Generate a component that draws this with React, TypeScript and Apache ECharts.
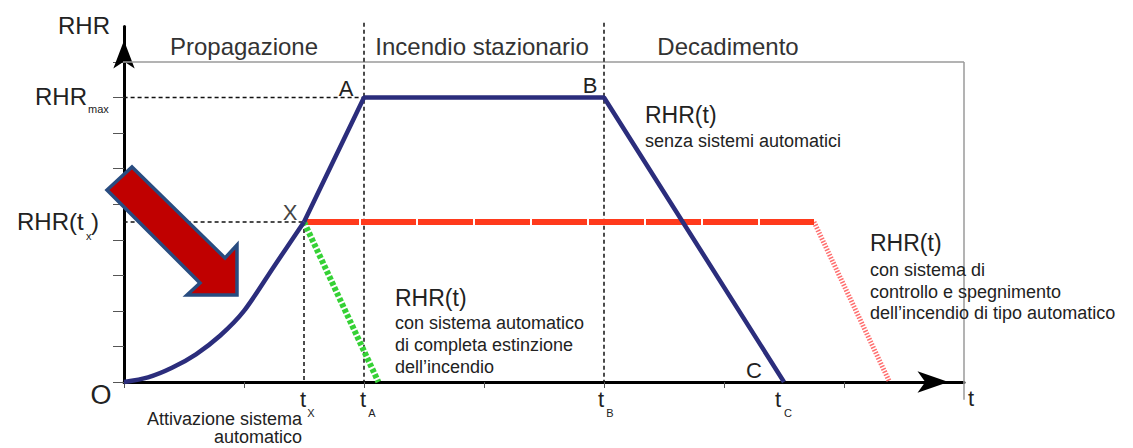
import React, { useEffect, useRef } from "react";
import * as echarts from "echarts";

// ---- data (diagram units: t on x, RHR on y) ----
const xTickValues = [0, 1, 2, 3, 4, 5, 6];
const yTickValues = [0, 1, 2, 3, 4, 5, 6, 7, 8, 9];
const growthCurve = [[0, 0], [0.2, 0.13], [0.4, 0.4], [0.6, 0.78], [0.8, 1.3], [1.0, 2.0], [1.25, 3.25], [1.5, 4.5]];
const freeBurn = [[1.5, 4.5], [2, 8], [4, 8], [5.5, 0]];
const extinction = [[1.5, 4.5], [2.12, 0]];
const controlledPlateau = [[1.5, 4.5], [5.75, 4.5]];
const controlledDecay = [[5.75, 4.5], [6.38, 0]];
const guideRHRmax = [[-0.12, 8], [2, 8]];
const guideRHRtx = [[-0.12, 4.5], [1.5, 4.5]];
const guideTx = [[1.5, 4.5], [1.5, 0]];
const guideTa = [[2, 10.1], [2, 0]];
const guideTb = [[4, 10.1], [4, 0]];
const frameTop = [[-0.1, 9], [7, 9]];
const frameRight = [[7, 9], [7, -0.5]];

const FONT = "'Liberation Sans', Arial, sans-serif";

function txt(text: string, x: number, y: number, size: number, opts: any = {}) {
  return {
    type: "text",
    x,
    y,
    z: 50,
    style: {
      text,
      fill: opts.fill || "#222",
      fontSize: size,
      fontFamily: FONT,
      align: opts.align || "left",
      verticalAlign: "middle",
      lineHeight: opts.lineHeight || size * 1.2,
    },
  };
}

export default function App() {
  const ref = useRef<HTMLDivElement>(null);
  useEffect(() => {
    if (!ref.current) return;
    const chart = echarts.init(ref.current, undefined, { renderer: "svg" });
    const line = (data: number[][], color: string, width: number, type: any, z = 2, smooth: any = false) => ({
      type: "line",
      data,
      smooth,
      symbol: "none",
      clip: false,
      z,
      silent: true,
      lineStyle: { color, width, type, cap: "butt" },
    });
    const guide = (data: number[][]) => line(data, "#111", 1.5, [4, 3], 1);
    chart.setOption({
      animation: false,
      backgroundColor: "#fff",
      grid: { left: 124, right: 169, top: 26.4, bottom: 66 },
      xAxis: {
        type: "value",
        min: 0,
        max: 7,
        interval: 1,
        splitLine: { show: false },
        axisLabel: { show: false },
        axisTick: { show: true, length: 6, customValues: xTickValues, lineStyle: { color: "#555", width: 1 } },
        axisLine: {
          show: true,
          onZero: true,
          lineStyle: { color: "#000", width: 3 },
          symbol: ["none", "arrow"],
          symbolSize: [16, 31],
          symbolOffset: [0, -15.5],
        },
      },
      yAxis: {
        type: "value",
        min: 0,
        max: 10,
        interval: 1,
        splitLine: { show: false },
        axisLabel: { show: false },
        axisTick: { show: true, length: 11, customValues: yTickValues, lineStyle: { color: "#555", width: 1 } },
        axisLine: {
          show: true,
          onZero: true,
          lineStyle: { color: "#000", width: 3 },
          symbol: ["none", "arrow"],
          symbolSize: [16, 28],
          symbolOffset: [0, -14],
        },
      },
      series: [
        line(frameTop, "#9a9a9a", 1.5, "solid", 1),
        line(frameRight, "#9a9a9a", 1.5, "solid", 1),
        guide(guideRHRmax),
        guide(guideRHRtx),
        guide(guideTx),
        guide(guideTa),
        guide(guideTb),
        line(controlledDecay, "#ff6f6f", 5, [1.5, 1.5], 3),
        line(controlledPlateau, "#ff3a1c", 6, [55, 2], 3),
        line(extinction, "#35d135", 6, [4, 2], 4),
        line(growthCurve, "#2b2d7c", 4.5, "solid", 5, 0.3),
        line(freeBurn, "#2b2d7c", 4.5, "solid", 5),
      ],
      graphic: [
        // big decorative arrow
        {
          type: "polygon",
          z: 100,
          shape: {
            points: [[132, 167], [225, 258], [237, 245], [237, 295], [187, 295], [200, 283], [107, 190]],
          },
          style: { fill: "#c00000", stroke: "#284c80", lineWidth: 3.5, lineJoin: "miter" },
        },
        txt("RHR", 58, 25, 24),
        txt("Propagazione", 244, 46, 24, { align: "center", fill: "#333" }),
        txt("Incendio stazionario", 482, 46, 24, { align: "center", fill: "#333" }),
        txt("Decadimento", 728, 46, 24, { align: "center", fill: "#333" }),
        txt("RHR", 35, 96, 24),
        txt("max", 88, 109, 11),
        txt("RHR(t", 17, 221, 24),
        txt("x", 86, 236, 11),
        txt(")", 91, 221, 24),
        txt("A", 346, 88, 22, { align: "center" }),
        txt("B", 590, 85, 22, { align: "center" }),
        txt("X", 290, 212, 22, { align: "center", fill: "#444" }),
        txt("C", 754, 370, 22, { align: "center" }),
        txt("O", 101, 395, 27, { align: "center" }),
        txt("t", 303, 399, 22, { align: "center" }),
        txt("X", 311, 413, 11, { align: "center" }),
        txt("t", 363, 399, 22, { align: "center" }),
        txt("A", 372, 413, 11, { align: "center" }),
        txt("t", 601, 399, 22, { align: "center" }),
        txt("B", 610, 413, 11, { align: "center" }),
        txt("t", 778, 399, 22, { align: "center" }),
        txt("C", 788, 413, 11, { align: "center" }),
        txt("t", 971, 398, 22, { align: "center" }),
        txt("Attivazione sistema", 302, 419, 18, { align: "right" }),
        txt("automatico", 302, 437, 18, { align: "right" }),
        txt("RHR(t)", 645, 115, 23),
        txt("senza sistemi automatici", 645, 141, 18),
        txt("RHR(t)", 395, 298, 23),
        txt("con sistema automatico", 395, 323, 18),
        txt("di completa estinzione", 395, 345, 18),
        txt("dell\u2019incendio", 395, 367, 18),
        txt("RHR(t)", 870, 243, 23),
        txt("con sistema di", 870, 270, 18),
        txt("controllo e spegnimento", 870, 292, 18),
        txt("dell\u2019incendio di tipo automatico", 870, 313, 18),
      ],
    });
    return () => chart.dispose();
  }, []);
  return (
    <div
      ref={ref}
      style={{ position: "fixed", left: 0, top: 0, width: 1133, height: 448, background: "#fff" }}
    />
  );
}
